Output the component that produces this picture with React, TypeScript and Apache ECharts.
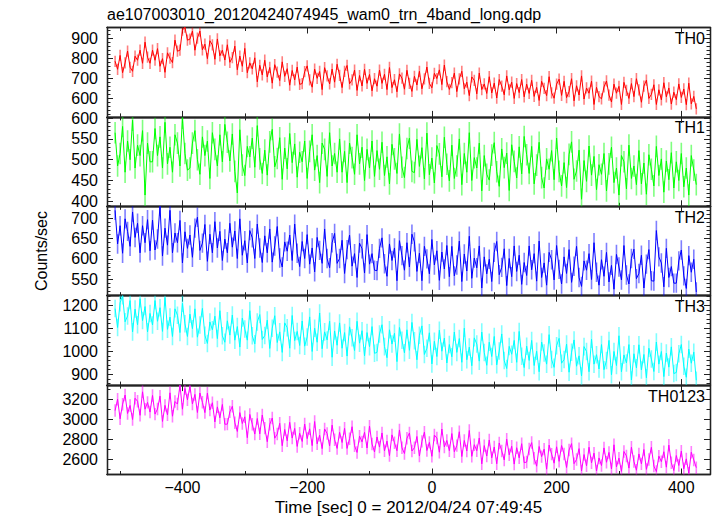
import React, { useEffect, useRef } from "react";
import * as echarts from "echarts";

const TITLE = "ae107003010_20120424074945_wam0_trn_4band_long.qdp";
const X_NAME = "Time [sec] 0 = 2012/04/24 07:49:45";
const Y_NAME = "Counts/sec";
const PANEL_NAMES = ["TH0", "TH1", "TH2", "TH3", "TH0123"];
const COLORS = ["#ff0000", "#00ff00", "#0000ff", "#00ffff", "#ff00ff"];

// time bins (sec): first bin centre and bin width
const T_START = -508;
const T_STEP = 4;
const X_RANGE = [-521, 446];
const X_LABELS = [-400, -200, 0, 200, 400];
const X_MINOR = [-500, -400, -300, -200, -100, 0, 100, 200, 300, 400];

const Y_RANGES = [
  [508, 953],
  [388, 603],
  [509, 730],
  [853, 1241],
  [2451, 3342],
];
const Y_LABELS = [
  [600, 700, 800, 900],
  [400, 450, 500, 550, 600],
  [550, 600, 650, 700],
  [900, 1000, 1100, 1200],
  [2600, 2800, 3000, 3200],
];
const Y_MINOR_STEP = [20, 10, 10, 20, 100];
// typical 1-sigma error bar of a bin, per panel (counts/sec)
const ERRORS = [28, 26, 24, 38, 62];

const TH0 = [
  785, 745, 814, 728, 777, 836, 755, 735, 810, 790, 840, 775, 880, 805, 775,
  840, 790, 848, 760, 798, 730, 827, 800, 778, 890, 835, 840, 940, 955, 890,
  895, 935, 840, 900, 935, 842, 870, 798, 887, 866, 795, 896, 812, 840, 791,
  867, 780, 803, 860, 743, 811, 760, 849, 728, 777, 747, 802, 683, 765, 717,
  790, 707, 754, 676, 768, 731, 689, 782, 710, 748, 666, 739, 692, 756, 670,
  674, 733, 762, 692, 656, 746, 700, 734, 644, 753, 712, 672, 746, 681, 770,
  715, 654, 734, 764, 673, 692, 741, 640, 714, 662, 745, 675, 719, 638, 698,
  661, 741, 675, 720, 644, 754, 654, 693, 633, 722, 701, 646, 740, 675, 635,
  710, 667, 735, 648, 697, 756, 675, 653, 725, 699, 742, 669, 766, 683, 645,
  678, 726, 634, 697, 735, 648, 681, 614, 707, 690, 623, 726, 644, 672, 625,
  708, 627, 676, 602, 694, 661, 618, 712, 643, 681, 600, 674, 629, 694, 608,
  671, 625, 690, 610, 655, 590, 685, 650, 614, 708, 628, 601, 671, 696, 615,
  685, 604, 634, 698, 588, 663, 617, 712, 597, 652, 626, 686, 570, 655, 609,
  598, 657, 687, 617, 582, 671, 626, 660, 570, 680, 640, 600, 674, 609, 698,
  642, 581, 661, 691, 600, 620, 668, 570, 643, 593, 678, 608, 652, 572, 631,
  594, 672, 605, 647, 569, 676, 573, 610, 548,
];

const TH1 = [
  565, 485, 515, 580, 470, 545, 500, 595, 480, 535, 510, 570, 415, 540, 495,
  495, 575, 510, 555, 480, 590, 490, 530, 470, 560, 540, 485, 600, 515, 475,
  480, 540, 570, 500, 465, 555, 510, 545, 455, 565, 525, 485, 560, 495, 585,
  542, 497, 562, 472, 420, 572, 487, 462, 532, 507, 552, 482, 582, 502, 467,
  523, 463, 543, 573, 483, 503, 553, 453, 528, 478, 563, 493, 538, 458, 518,
  495, 545, 455, 520, 560, 475, 510, 445, 540, 525, 460, 565, 485, 515, 470,
  550, 470, 520, 445, 540, 505, 465, 560, 490, 530, 450, 525, 480, 545, 460,
  522, 477, 542, 462, 507, 442, 537, 502, 467, 562, 482, 457, 527, 552, 472,
  469, 549, 484, 529, 454, 564, 464, 504, 444, 534, 514, 459, 554, 489, 449,
  535, 455, 485, 550, 440, 515, 470, 565, 450, 505, 480, 540, 425, 510, 465,
  451, 511, 541, 471, 436, 526, 481, 516, 426, 536, 496, 456, 531, 466, 556,
  512, 467, 532, 442, 487, 542, 457, 432, 502, 477, 522, 452, 552, 472, 437,
  493, 433, 513, 543, 453, 473, 523, 405, 498, 448, 533, 463, 508, 428, 488,
  465, 515, 425, 490, 530, 445, 480, 415, 510, 495, 430, 535, 455, 485, 440,
  522, 442, 492, 417, 512, 477, 437, 532, 462, 502, 422, 497, 452, 517, 432,
  495, 450, 515, 435, 480, 415, 510, 475, 440,
];

const TH2 = [
  720, 637, 682, 614, 699, 668, 631, 716, 653, 688, 615, 682, 640, 697, 620,
  696, 622, 649, 730, 607, 676, 634, 720, 615, 664, 640, 695, 590, 667, 626,
  659, 604, 676, 703, 621, 639, 685, 594, 661, 615, 692, 627, 668, 596, 649,
  615, 688, 629, 669, 601, 699, 609, 645, 590, 670, 652, 601, 686, 627, 591,
  657, 615, 674, 592, 632, 680, 602, 580, 642, 619, 659, 596, 686, 614, 581,
  643, 601, 660, 587, 627, 568, 653, 621, 589, 674, 601, 578, 640, 663, 589,
  601, 646, 564, 623, 659, 582, 613, 554, 639, 625, 565, 660, 587, 613, 572,
  571, 626, 652, 588, 557, 637, 596, 627, 546, 645, 608, 572, 640, 580, 661,
  642, 569, 614, 546, 631, 600, 563, 648, 585, 620, 547, 617, 575, 633, 556,
  631, 558, 585, 644, 544, 612, 570, 656, 552, 602, 578, 632, 528, 605, 563,
  599, 544, 616, 643, 561, 579, 625, 534, 601, 556, 632, 569, 609, 537, 591,
  559, 632, 573, 613, 545, 644, 554, 590, 535, 616, 598, 548, 633, 574, 538,
  605, 564, 623, 542, 582, 631, 554, 532, 595, 572, 613, 549, 640, 567, 535,
  598, 557, 616, 543, 584, 525, 611, 580, 548, 633, 560, 538, 601, 624, 551,
  564, 609, 528, 587, 623, 546, 545, 670, 605, 590, 531, 626, 554, 581, 540,
  540, 595, 622, 558, 527, 608, 567, 599, 518,
];

const TH3 = [
  1185, 1103, 1210, 1241, 1128, 1153, 1220, 1084, 1183, 1115, 1228, 1133, 1194, 1084, 1164,
  1114, 1220, 1130, 1189, 1086, 1233, 1095, 1148, 1064, 1184, 1156, 1081, 1208, 1119, 1064,
  1161, 1098, 1184, 1061, 1114, 1186, 1069, 1034, 1127, 1093, 1152, 1055, 1176, 1067, 1039,
  1132, 1070, 1157, 1048, 1107, 1018, 1144, 1096, 1048, 1176, 1067, 1032, 1127, 1159, 1051,
  1068, 1135, 1012, 1100, 1154, 1038, 1084, 995, 1123, 1102, 1013, 1155, 1046, 1086, 1025,
  1131, 1022, 1062, 1149, 999, 1100, 1039, 1166, 1011, 1084, 1049, 1130, 974, 1088, 1026,
  1123, 1013, 1081, 979, 1106, 1058, 1003, 1130, 1035, 1089, 980, 1081, 1020, 1107, 991,
  995, 1075, 1115, 1020, 972, 1093, 1031, 1078, 955, 1103, 1048, 993, 1093, 1004, 1125,
  1045, 963, 1069, 1110, 986, 1013, 1080, 945, 1043, 977, 1091, 1000, 1057, 949, 1029,
  976, 1083, 995, 1055, 952, 1100, 963, 1018, 937, 1058, 1031, 957, 1083, 994, 939,
  1039, 977, 1064, 941, 1001, 1075, 960, 925, 1021, 987, 1047, 952, 1086, 978, 929,
  1022, 960, 1047, 938, 1000, 911, 1040, 992, 944, 1072, 964, 930, 1024, 1056, 948,
  964, 1031, 909, 996, 1049, 935, 980, 893, 1020, 999, 911, 1052, 944, 985, 923,
  1029, 920, 960, 1047, 898, 999, 938, 1067, 911, 984, 949, 1029, 875, 989, 928,
  1028, 919, 986, 885, 1013, 966, 912, 1040, 944, 999, 890, 992, 931, 1019, 903,
  908, 989, 1029, 935, 887, 1009, 948, 996, 874,
];

const TH0123 = [
  3088, 3201, 3006, 3152, 3243, 3059, 3139, 2999, 3211, 3181, 3041, 3275, 3102, 3170, 3073,
  3239, 3053, 3104, 3232, 2980, 3140, 3046, 3265, 3032, 3178, 3153, 3340, 3102, 3309, 3195,
  3330, 3154, 3249, 3069, 3263, 3171, 3068, 3262, 3093, 3166, 2975, 3125, 3016, 3149, 2952,
  2953, 3075, 3131, 2967, 2880, 3068, 2959, 3026, 2818, 3050, 2952, 2854, 3009, 2856, 3044,
  2913, 2778, 2951, 3014, 2813, 2854, 2961, 2738, 2900, 2787, 2971, 2814, 2910, 2731, 2862,
  2780, 2954, 2809, 2906, 2739, 2979, 2757, 2843, 2709, 2905, 2859, 2736, 2943, 2798, 2711,
  2871, 2770, 2911, 2711, 2808, 2927, 2738, 2671, 2833, 2776, 2871, 2715, 2933, 2755, 2676,
  2825, 2724, 2865, 2687, 2784, 2639, 2846, 2767, 2688, 2895, 2717, 2660, 2812, 2865, 2685,
  2718, 2830, 2635, 2781, 2873, 2690, 2771, 2632, 2844, 2814, 2673, 2904, 2726, 2790, 2688,
  2859, 2678, 2739, 2877, 2630, 2790, 2686, 2890, 2632, 2748, 2688, 2815, 2557, 2739, 2635,
  2795, 2617, 2725, 2558, 2765, 2686, 2596, 2803, 2647, 2733, 2555, 2718, 2617, 2758, 2569,
  2575, 2705, 2769, 2613, 2534, 2730, 2629, 2704, 2504, 2744, 2654, 2564, 2727, 2582, 2740,
  2655, 2521, 2695, 2759, 2559, 2601, 2709, 2487, 2650, 2538, 2723, 2567, 2664, 2486, 2616,
  2540, 2716, 2573, 2671, 2506, 2747, 2527, 2614, 2482, 2680, 2636, 2515, 2723, 2581, 2493,
  2656, 2557, 2700, 2502, 2601, 2722, 2535, 2480, 2634, 2579, 2678, 2524, 2744, 2568, 2491,
  2640, 2541, 2684, 2508, 2607, 2464, 2673, 2596, 2519,
];

const PANEL_VALUES = [TH0, TH1, TH2, TH3, TH0123];

const FONT = '"Liberation Sans", Arial, Helvetica, sans-serif';
const W = 717;
const H = 516;
const GRID_LEFT = 107;
const GRID_RIGHT = 7;
const GRID_TOP = 27.5;
const PANEL_H = 89.4;
const AXIS_COLOR = "#222";

const fmt = (v: number) => (v < 0 ? "\u2212" + Math.abs(v) : String(v));

function minorTicks(range: number[], step: number) {
  const out: number[] = [];
  for (let v = Math.ceil(range[0] / step) * step; v <= range[1]; v += step) out.push(v);
  return out;
}

function xAxisCfg(gridIndex: number, position: string, ticks: number[], len: number, showLabels: boolean) {
  return {
    type: "value",
    gridIndex,
    position,
    min: X_RANGE[0],
    max: X_RANGE[1],
    axisLine: { show: true, onZero: false, lineStyle: { color: AXIS_COLOR, width: 1.3 } },
    axisTick: { show: true, inside: true, length: len, customValues: ticks, lineStyle: { color: AXIS_COLOR, width: 1 } },
    axisLabel: showLabels
      ? { show: true, customValues: X_LABELS, formatter: (v: number) => fmt(v), fontSize: 16, color: "#000", margin: 5, fontFamily: FONT }
      : { show: false },
    splitLine: { show: false },
  };
}

function yAxisCfg(gridIndex: number, position: string, range: number[], ticks: number[], len: number, labels: number[] | null) {
  return {
    type: "value",
    gridIndex,
    position,
    min: range[0],
    max: range[1],
    axisLine: { show: true, onZero: false, lineStyle: { color: AXIS_COLOR, width: 1.3 } },
    axisTick: { show: true, inside: true, length: len, customValues: ticks, lineStyle: { color: AXIS_COLOR, width: 1 } },
    axisLabel: labels
      ? { show: true, customValues: labels, formatter: (v: number) => fmt(v), fontSize: 16, color: "#000", margin: 9, fontFamily: FONT }
      : { show: false },
    splitLine: { show: false },
  };
}

export default function App() {
  const ref = useRef<HTMLDivElement>(null);
  useEffect(() => {
    document.body.style.margin = "0";
    if (!ref.current) return;
    const chart = echarts.init(ref.current, null, { renderer: "svg" });
    const grids: any[] = [];
    const xAxes: any[] = [];
    const yAxes: any[] = [];
    const series: any[] = [];
    const graphics: any[] = [];
    PANEL_VALUES.forEach((vals, p) => {
      const top = GRID_TOP + p * PANEL_H;
      grids.push({ left: GRID_LEFT, right: GRID_RIGHT, top, height: PANEL_H, containLabel: false });
      const last = p === PANEL_VALUES.length - 1;
      xAxes.push(xAxisCfg(p, "bottom", X_LABELS, 6, last));
      xAxes.push(xAxisCfg(p, "bottom", X_MINOR, 3.5, false));
      xAxes.push(xAxisCfg(p, "top", X_LABELS, 6, false));
      xAxes.push(xAxisCfg(p, "top", X_MINOR, 3.5, false));
      const minor = minorTicks(Y_RANGES[p], Y_MINOR_STEP[p]);
      yAxes.push(yAxisCfg(p, "left", Y_RANGES[p], Y_LABELS[p], 6, Y_LABELS[p]));
      yAxes.push(yAxisCfg(p, "left", Y_RANGES[p], minor, 3.5, null));
      yAxes.push(yAxisCfg(p, "right", Y_RANGES[p], Y_LABELS[p], 6, null));
      yAxes.push(yAxisCfg(p, "right", Y_RANGES[p], minor, 3.5, null));
      const data = vals.map((v, i) => [T_START + i * T_STEP, v]);
      const errData = vals.map((v, i) => [T_START + i * T_STEP, v, ERRORS[p]]);
      const color = COLORS[p];
      series.push({
        type: "custom",
        xAxisIndex: p * 4,
        yAxisIndex: p * 4,
        data: errData,
        encode: { x: 0, y: 1 },
        silent: true,
        clip: true,
        z: 1,
        renderItem: (_params: any, api: any) => {
          const t = api.value(0);
          const v = api.value(1);
          const e = api.value(2);
          const a = api.coord([t, v - e]);
          const b = api.coord([t, v + e]);
          return {
            type: "line",
            shape: { x1: a[0], y1: a[1], x2: b[0], y2: b[1] },
            style: { stroke: color, lineWidth: 1.6, opacity: 0.5 },
          };
        },
      });
      series.push({
        type: "line",
        xAxisIndex: p * 4,
        yAxisIndex: p * 4,
        data,
        showSymbol: false,
        symbol: "none",
        silent: true,
        lineStyle: { color, width: 1 },
        z: 2,
      });
      graphics.push({
        type: "text",
        x: 705,
        y: top + 11,
        style: { text: PANEL_NAMES[p], font: `16px ${FONT}`, fill: "#000", align: "right", verticalAlign: "middle" },
      });
    });
    graphics.push({
      type: "text",
      x: GRID_LEFT,
      y: 14,
      style: { text: TITLE, font: `16px ${FONT}`, fill: "#000", align: "left", verticalAlign: "middle" },
    });
    graphics.push({
      type: "text",
      x: (GRID_LEFT + (W - GRID_RIGHT)) / 2,
      y: 507,
      style: { text: X_NAME, font: `17px ${FONT}`, fill: "#000", align: "center", verticalAlign: "middle" },
    });
    graphics.push({
      type: "text",
      x: 41,
      y: 251,
      rotation: Math.PI / 2,
      style: { text: Y_NAME, font: `16px ${FONT}`, fill: "#000", align: "center", verticalAlign: "middle" },
    });
    chart.setOption({
      animation: false,
      backgroundColor: "#fff",
      grid: grids,
      xAxis: xAxes,
      yAxis: yAxes,
      series,
      graphic: graphics,
    });
    return () => chart.dispose();
  }, []);
  return <div ref={ref} style={{ width: W, height: H }} />;
}
